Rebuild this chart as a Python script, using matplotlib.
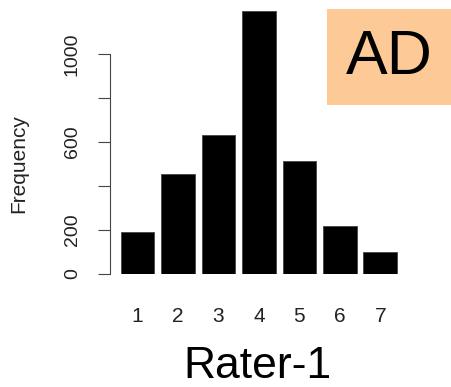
import matplotlib
matplotlib.use("Agg")
from matplotlib import pyplot as plt
from matplotlib.patches import Rectangle

plt.rcParams['font.family'] = ['Liberation Sans', 'DejaVu Sans']

# rating categories and counts
ratings = [1, 2, 3, 4, 5, 6, 7]
counts = [190, 455, 632, 1195, 512, 218, 98]
y_ticks = [0, 200, 400, 600, 800, 1000]
y_labels = ['0', '200', '', '600', '', '1000']

W, H = 452, 387
fig = plt.figure(figsize=(W / 100, H / 100), dpi=100)

# axes box in pixels: left edge 110, y=0 at 274px, y=1200 at 10px
ax = fig.add_axes([110 / W, (H - 274) / H, 1 - 110 / W, 264 / H])
ax.bar(ratings, counts, width=0.833, color='black', edgecolor='#444444', linewidth=0.6)
ax.set_xlim(0.3205, 8.77)
ax.set_ylim(0, 1200)

for s in ['top', 'right', 'bottom']:
    ax.spines[s].set_visible(False)
ax.spines['left'].set_bounds(0, 1000)
ax.spines['left'].set_color('#444444')

ax.set_yticks(y_ticks)
ax.set_yticklabels(y_labels, rotation=90, va='center', fontsize=14, color='#222222')
ax.tick_params(axis='y', length=9, width=0.8, color='#444444', pad=12)

ax.set_xticks(ratings)
ax.set_xticklabels([str(r) for r in ratings], fontsize=15, color='#222222')
ax.tick_params(axis='x', length=0, pad=24)

fig.text(18.5 / W, 1 - 164 / H, 'Frequency', rotation=90, ha='center', va='center',
         fontsize=15, color='#222222')
fig.text(257 / W, 1 - 377.5 / H, 'Rater-1', ha='center', va='baseline', fontsize=32)

# peach label box in the top right corner
fig.patches.append(Rectangle((327 / W, 1 - 105 / H), 125 / W, 96 / H,
                             transform=fig.transFigure, facecolor='#FDCA97',
                             edgecolor='none', zorder=3))
fig.text(389.5 / W, 1 - 57.5 / H, 'AD', ha='center', va='center', fontsize=45, zorder=4)

fig.savefig('out.png', dpi=100)
